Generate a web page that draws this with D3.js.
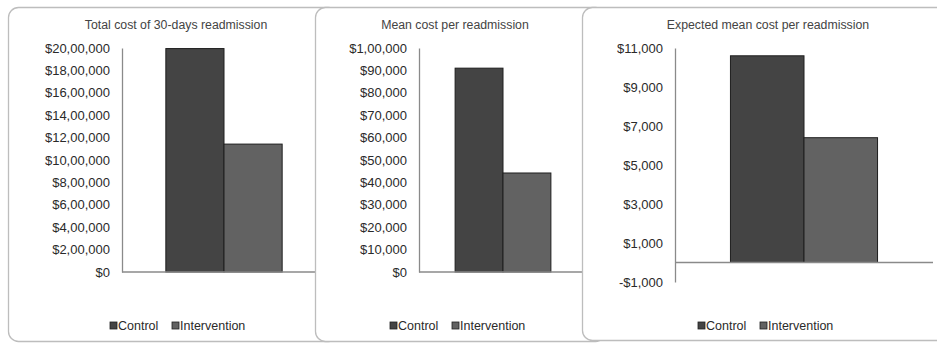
<!DOCTYPE html>
<html>
<head>
<meta charset="utf-8">
<script src="https://cdn.jsdelivr.net/npm/d3@7"></script>
<style>
  html, body { margin: 0; padding: 0; background: #fff; }
  svg { display: block; font-family: "Liberation Sans", Arial, sans-serif; }
</style>
</head>
<body>
<svg id="chart" width="937" height="344"></svg>
<script>
// Series shown in every panel
const seriesNames = ["Control", "Intervention"];
const seriesColors = ["#444444", "#626262"];

// Panel titles
const titles = [
  "Total cost of 30-days readmission",
  "Mean cost per readmission",
  "Expected mean cost per readmission"
];

// Values per panel: [Control, Intervention]
const totalCost = [1995000, 1142000];
const meanCost = [91000, 44200];
const expectedMeanCost = [10600, 6400];

// Axis ticks per panel
const totalTicks = [0, 200000, 400000, 600000, 800000, 1000000, 1200000, 1400000, 1600000, 1800000, 2000000];
const totalTickLabels = ["$0", "$2,00,000", "$4,00,000", "$6,00,000", "$8,00,000", "$10,00,000", "$12,00,000", "$14,00,000", "$16,00,000", "$18,00,000", "$20,00,000"];
const meanTicks = [0, 10000, 20000, 30000, 40000, 50000, 60000, 70000, 80000, 90000, 100000];
const meanTickLabels = ["$0", "$10,000", "$20,000", "$30,000", "$40,000", "$50,000", "$60,000", "$70,000", "$80,000", "$90,000", "$1,00,000"];
const expectedTicks = [-1000, 1000, 3000, 5000, 7000, 9000, 11000];
const expectedTickLabels = ["-$1,000", "$1,000", "$3,000", "$5,000", "$7,000", "$9,000", "$11,000"];

const svg = d3.select("#chart");

// Frame and plot-area geometry of each panel
const panels = [
  { title: titles[0], values: totalCost, ticks: totalTicks, labels: totalTickLabels,
    frame: { x: 8.5, y: 7.5, w: 330, h: 334 },
    plot: { x0: 122, x1: 326, yTop: 48, yBot: 272 }, domain: [0, 2000000],
    titleX: 176, legendX: 110 },
  { title: titles[1], values: meanCost, ticks: meanTicks, labels: meanTickLabels,
    frame: { x: 315.5, y: 7.5, w: 290, h: 334 },
    plot: { x0: 419, x1: 587, yTop: 48, yBot: 272 }, domain: [0, 100000],
    titleX: 455, legendX: 390 },
  { title: titles[2], values: expectedMeanCost, ticks: expectedTicks, labels: expectedTickLabels,
    frame: { x: 582.5, y: 7.5, w: 380, h: 333 },
    plot: { x0: 675, x1: 933, yTop: 48, yBot: 282 }, domain: [-1000, 11000],
    titleX: 768, legendX: 698 }
];

panels.forEach(p => {
  const g = svg.append("g");

  g.append("rect")
    .attr("x", p.frame.x).attr("y", p.frame.y)
    .attr("width", p.frame.w).attr("height", p.frame.h)
    .attr("rx", 10).attr("ry", 10)
    .attr("fill", "#fff").attr("stroke", "#bdbdbd").attr("stroke-width", 1.3);

  g.append("text")
    .attr("x", p.titleX).attr("y", 29)
    .attr("text-anchor", "middle")
    .attr("font-size", 12.3).attr("fill", "#444")
    .text(p.title);

  const y = d3.scaleLinear().domain(p.domain).range([p.plot.yBot, p.plot.yTop]);

  // one category, two series side by side
  const xOuter = d3.scaleBand().domain(["all"]).range([p.plot.x0, p.plot.x1])
    .paddingInner(0).paddingOuter(0.377);
  const xInner = d3.scaleBand().domain(seriesNames).range([0, xOuter.bandwidth()]);

  g.selectAll("rect.bar").data(p.values).join("rect")
    .attr("class", "bar")
    .attr("x", (d, i) => xOuter("all") + xInner(seriesNames[i]))
    .attr("width", xInner.bandwidth())
    .attr("y", d => y(Math.max(0, d)))
    .attr("height", d => Math.abs(y(d) - y(0)))
    .attr("fill", (d, i) => seriesColors[i])
    .attr("stroke", "#1e1e1e").attr("stroke-width", 1);

  // value axis
  const axis = d3.axisLeft(y).tickValues(p.ticks)
    .tickFormat((d, i) => p.labels[i]).tickSize(0).tickPadding(12);
  const ag = g.append("g").attr("transform", `translate(${p.plot.x0},0)`).call(axis);
  ag.select(".domain").attr("stroke", "#8a8a8a").attr("stroke-width", 1.3);
  ag.selectAll("text").attr("font-size", 13).attr("fill", "#2a2a2a")
    .attr("font-family", "Liberation Sans, Arial, sans-serif");

  // category baseline at zero
  g.append("line")
    .attr("x1", p.plot.x0).attr("x2", p.plot.x1)
    .attr("y1", y(0)).attr("y2", y(0))
    .attr("stroke", "#8a8a8a").attr("stroke-width", 1.3);

  // legend
  const lg = g.append("g").attr("transform", `translate(${p.legendX},330)`);
  const offsets = [0, 62];
  seriesNames.forEach((name, i) => {
    lg.append("rect")
      .attr("x", offsets[i]).attr("y", -8)
      .attr("width", 7).attr("height", 7)
      .attr("fill", seriesColors[i]).attr("stroke", "#222").attr("stroke-width", 0.8);
    lg.append("text")
      .attr("x", offsets[i] + 8).attr("y", 0)
      .attr("font-size", 12.5).attr("fill", "#2a2a2a")
      .text(name);
  });
});
</script>
</body>
</html>
